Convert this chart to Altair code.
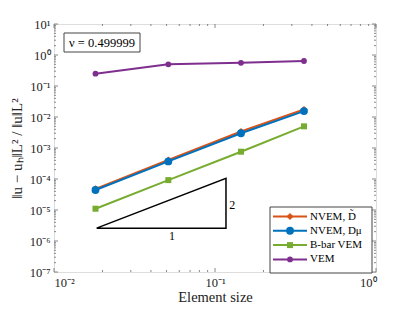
import altair as alt
import pandas as pd

# ---- data ----
h = [0.0181, 0.0513, 0.145, 0.357]
series = ["NVEM, D\u0303", "NVEM, D\u03bc", "B-bar VEM", "VEM"]
err_nvem_dtilde = [4.8e-5, 4.1e-4, 3.4e-3, 1.75e-2]
err_nvem_dmu = [4.4e-5, 3.7e-4, 3.0e-3, 1.55e-2]
err_bbar = [1.1e-5, 9.2e-5, 7.6e-4, 5.0e-3]
err_vem = [0.25, 0.50, 0.56, 0.64]
errors = [err_nvem_dtilde, err_nvem_dmu, err_bbar, err_vem]
colors = ["#D95319", "#0072BD", "#77AC30", "#7E2F8E"]
shapes = ["diamond", "circle", "square", "circle"]
sizes = [50, 62, 36, 34]

tri_x = [0.0184, 0.117, 0.117, 0.0184]
tri_y = [2.6e-6, 2.6e-6, 1.05e-4, 2.6e-6]
slope_labels = ["1", "2"]
slope_label_x = [0.054, 0.128]
slope_label_y = [1.4e-6, 1.5e-5]
nu_text = "\u03bd = 0.499999"

x_ticks = [0.01, 0.1, 1.0]
x_exps = [-2, -1, 0]
y_ticks = [1e-7, 1e-6, 1e-5, 1e-4, 1e-3, 1e-2, 1e-1, 1.0, 10.0]
y_exps = [-7, -6, -5, -4, -3, -2, -1, 0, 1]

W, H = 322, 248
FONT = "Liberation Serif"
FRAME = "#6b6b6b"

SUP = str.maketrans("-0123456789", "\u207b\u2070\u00b9\u00b2\u00b3\u2074\u2075\u2076\u2077\u2078\u2079")


def label_expr(vals, exps):
    expr = None
    for v, e in reversed(list(zip(vals, exps))):
        lab = f"'10{str(e).translate(SUP)}'"
        expr = lab if expr is None else f"datum.value < {v * 1.5} ? {lab} : " + expr
    return expr


xscale = alt.Scale(type="log", domain=[0.01, 1.0])
yscale = alt.Scale(type="log", domain=[1e-7, 10.0])

xaxis = alt.Axis(values=x_ticks, labelExpr=label_expr(x_ticks, x_exps), ticks=False, domain=False,
                 grid=False, labelPadding=4, labelFontSize=12.5, labelFont=FONT, labelColor="#222",
                 title="Element size", titleFont=FONT, titleFontSize=14.5, titleFontWeight="normal",
                 titleY=18.5, titleBaseline="top", titleColor="#222")
yaxis = alt.Axis(values=y_ticks, labelExpr=label_expr(y_ticks, y_exps), ticks=False, domain=False,
                 grid=False, labelPadding=4, labelFontSize=12.5, labelFont=FONT, labelColor="#222",
                 title="\u2016u \u2212 u\u2095\u2016L\u00b2 / \u2016u\u2016L\u00b2", titleFont=FONT,
                 titleFontSize=15, titleFontWeight="normal", titlePadding=5, titleColor="#222")


def X(f):
    return alt.X(f, scale=xscale, axis=xaxis)


def Y(f):
    return alt.Y(f, scale=yscale, axis=yaxis)


layers = []

# inner tick marks
y_minor = [m * 10.0 ** e for e in y_exps[:-1] for m in range(2, 10)]
x_minor = [m * 10.0 ** e for e in x_exps[:-1] for m in range(2, 10)]
for vals, ln in [(y_ticks, 4), (y_minor, 2)]:
    d = pd.DataFrame({"v": vals})
    layers.append(alt.Chart(d).mark_rule(color=FRAME, strokeWidth=0.8).encode(
        y=Y("v:Q"), x=alt.value(0), x2=alt.value(ln)))
    layers.append(alt.Chart(d).mark_rule(color=FRAME, strokeWidth=0.8).encode(
        y=Y("v:Q"), x=alt.value(W - ln), x2=alt.value(W)))
for vals, ln in [(x_ticks, 4), (x_minor, 2)]:
    d = pd.DataFrame({"v": vals})
    layers.append(alt.Chart(d).mark_rule(color=FRAME, strokeWidth=0.8).encode(
        x=X("v:Q"), y=alt.value(H - ln), y2=alt.value(H)))
    layers.append(alt.Chart(d).mark_rule(color=FRAME, strokeWidth=0.8).encode(
        x=X("v:Q"), y=alt.value(0), y2=alt.value(ln)))

# series
for name, err, col, shp, sz in zip(series, errors, colors, shapes, sizes):
    d = pd.DataFrame({"h": h, "e": err, "s": [name] * len(h)})
    layers.append(alt.Chart(d).mark_line(color=col, strokeWidth=2).encode(x=X("h:Q"), y=Y("e:Q")))
    layers.append(alt.Chart(d).mark_point(color=col, filled=True, opacity=1, shape=shp, size=sz).encode(
        x=X("h:Q"), y=Y("e:Q")))

# slope triangle
tri_df = pd.DataFrame({"h": tri_x, "e": tri_y, "o": list(range(len(tri_x)))})
layers.append(alt.Chart(tri_df).mark_line(color="black", strokeWidth=1.5).encode(
    x=X("h:Q"), y=Y("e:Q"), order="o:Q"))
lab_df = pd.DataFrame({"h": slope_label_x, "e": slope_label_y, "t": slope_labels})
layers.append(alt.Chart(lab_df).mark_text(font=FONT, fontSize=12, color="black").encode(
    x=X("h:Q"), y=Y("e:Q"), text="t:N"))

# nu box
nu_df = pd.DataFrame({"t": [nu_text]})
layers.append(alt.Chart(nu_df).mark_rect(fill="white", stroke="#444", strokeWidth=1).encode(
    x=alt.value(10), x2=alt.value(86), y=alt.value(9), y2=alt.value(28)))
layers.append(alt.Chart(nu_df).mark_text(font=FONT, fontSize=12.5, color="black").encode(
    x=alt.value(48), y=alt.value(18.5), text="t:N"))

# legend
leg_df = pd.DataFrame({"t": [""]})
layers.append(alt.Chart(leg_df).mark_rect(fill="white", stroke="#444", strokeWidth=1).encode(
    x=alt.value(216), x2=alt.value(318), y=alt.value(183), y2=alt.value(249)))
for i, (name, col, shp, sz) in enumerate(zip(series, colors, shapes, sizes)):
    yy = 192.5 + i * 14.3
    d = pd.DataFrame({"t": [name]})
    layers.append(alt.Chart(d).mark_rule(color=col, strokeWidth=2).encode(
        x=alt.value(219), x2=alt.value(253), y=alt.value(yy)))
    layers.append(alt.Chart(d).mark_point(color=col, filled=True, opacity=1, shape=shp, size=sz).encode(
        x=alt.value(236), y=alt.value(yy)))
    layers.append(alt.Chart(d).mark_text(font=FONT, fontSize=11, color="black", align="left").encode(
        x=alt.value(256), y=alt.value(yy), text="t:N"))

chart = alt.layer(*layers).properties(
    width=W, height=H,
    autosize=alt.AutoSizeParams(type="none"),
    padding={"left": 46, "top": 16, "right": 31, "bottom": 32},
).configure_view(stroke=FRAME, strokeWidth=1).configure(font=FONT)

chart.save("out.html", embed_options={"renderer": "svg", "actions": False})
